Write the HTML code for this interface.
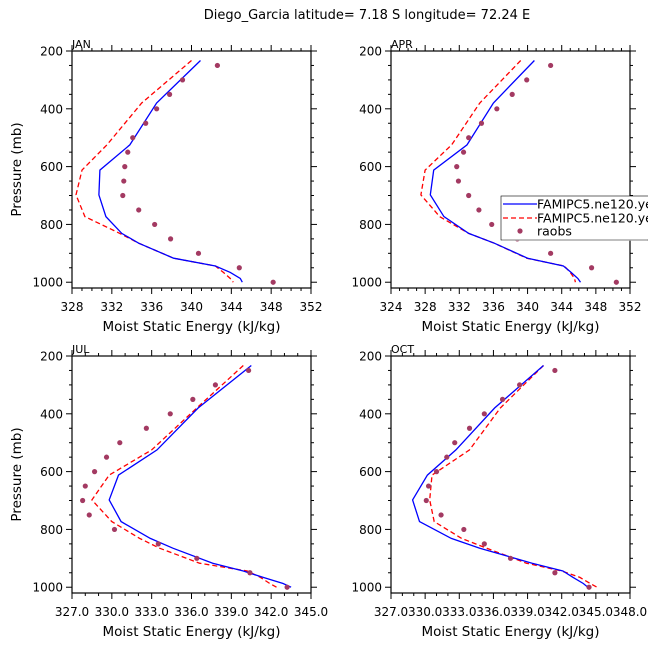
<!DOCTYPE html>
<html><head><meta charset="utf-8"><style>
body{margin:0;background:#fff;}
svg{display:block;font-family:"DejaVu Sans","Liberation Sans",sans-serif;}
</style></head><body>
<svg id="c" width="648" height="649" viewBox="0 0 648 649">
<text x="367" y="19" font-size="13" text-anchor="middle">Diego_Garcia  latitude= 7.18 S longitude= 72.24 E</text>
</svg>
<script>
const modelP=[233,380,525,612,698,773,831,865,917,944,966,987,1000];
const obsP=[250,300,350,400,450,500,550,600,650,700,750,800,850,900,950,1000];
const janBlue=[340.9,336.5,333.8,330.8,330.7,331.4,333.0,334.7,338.2,342.4,343.9,344.9,345.1];
const janRed=[340.0,335.0,331.5,329.0,328.4,329.3,332.8,334.7,338.2,342.4,343.2,343.9,344.2];
const janObs=[342.6,339.1,337.8,336.5,335.4,334.1,333.6,333.3,333.2,333.1,334.7,336.3,337.9,340.7,344.8,348.2];
const aprBlue=[340.8,336.0,332.9,329.0,328.6,330.2,333.1,336.1,340.0,344.2,345.1,345.9,346.2];
const aprRed=[339.2,334.4,331.1,328.0,327.5,329.7,333.1,336.1,339.9,344.3,345.0,345.5,345.6];
const aprObs=[342.7,339.9,338.2,336.4,334.6,333.1,332.5,331.7,331.9,333.1,334.3,335.8,338.8,342.7,347.5,350.4];
const julBlue=[340.5,336.5,333.4,330.5,329.8,330.7,332.9,334.6,337.6,339.9,341.4,342.9,343.5];
const julRed=[339.9,336.4,333.0,329.8,328.5,330.0,332.1,333.6,336.6,340.2,341.2,341.9,342.4];
const julObs=[340.3,337.8,336.1,334.4,332.6,330.6,329.6,328.7,328.0,327.8,328.3,330.2,333.5,336.4,340.4,343.2];
const octBlue=[340.4,336.1,332.7,330.2,328.9,329.5,332.3,334.8,339.4,342.1,343.0,343.9,344.3];
const octRed=[340.4,336.6,333.9,330.6,330.4,330.8,333.2,335.4,338.9,342.0,343.6,344.5,345.1];
const octObs=[341.4,338.3,336.8,335.2,333.9,332.6,331.9,331.0,330.3,330.1,331.4,333.4,335.2,337.5,341.4,344.4];
const pTicks=[200,400,600,800,1000];
const janX=[328,332,336,340,344,348,352];
const aprX=[324,328,332,336,340,344,348,352];
const julX=[327.0,330.0,333.0,336.0,339.0,342.0,345.0];
const octX=[327.0,330.0,333.0,336.0,339.0,342.0,345.0,348.0];

const NS="http://www.w3.org/2000/svg";
const svg=document.getElementById('c');
function mk(t,a,p){const e=document.createElementNS(NS,t);for(const k in a)e.setAttribute(k,a[k]);(p||svg).appendChild(e);return e;}

const panels=[
 {name:'jan',label:'JAN',x0:72,x1:311,y0:51,y1:288,xmin:328,xmax:352,minor:1,ticks:janX,dec:0,blue:janBlue,red:janRed,obs:janObs,ylab:true},
 {name:'apr',label:'APR',x0:391,x1:630,y0:51,y1:288,xmin:324,xmax:352,minor:1,ticks:aprX,dec:0,blue:aprBlue,red:aprRed,obs:aprObs,ylab:false,legend:true},
 {name:'jul',label:'JUL',x0:72,x1:311,y0:356,y1:593,xmin:327,xmax:345,minor:1,ticks:julX,dec:1,blue:julBlue,red:julRed,obs:julObs,ylab:true},
 {name:'oct',label:'OCT',x0:391,x1:630,y0:356,y1:593,xmin:327,xmax:348,minor:1,ticks:octX,dec:1,blue:octBlue,red:octRed,obs:octObs,ylab:false}
];
panels.forEach(P=>{
 const g=mk('g',{});
 
 
 const sx=v=>P.x0+(v-P.xmin)/(P.xmax-P.xmin)*(P.x1-P.x0);
 const sy=p=>P.y0+(p-200)/(1020-200)*(P.y1-P.y0);
 for(let v=P.xmin;v<=P.xmax+1e-9;v+=P.minor){
  const maj=P.ticks.some(t=>Math.abs(t-v)<1e-6);const L=maj?6:3;const x=sx(v);
  mk('line',{x1:x,x2:x,y1:P.y1,y2:P.y1+L,stroke:'#000','stroke-width':1},g);
  mk('line',{x1:x,x2:x,y1:P.y0,y2:P.y0-L,stroke:'#000','stroke-width':1},g);
 }
 for(let p=200;p<=1000;p+=50){
  const maj=p%200===0;const L=maj?6:3;const y=sy(p);
  mk('line',{x1:P.x0,x2:P.x0-L,y1:y,y2:y,stroke:'#000','stroke-width':1},g);
  mk('line',{x1:P.x1,x2:P.x1+L,y1:y,y2:y,stroke:'#000','stroke-width':1},g);
 }
 const fr=mk('rect',{x:P.x0,y:P.y0,width:P.x1-P.x0,height:P.y1-P.y0,fill:'none',stroke:'#000','stroke-width':1.2},g);
 
 
 const lb=mk('text',{x:P.x0,y:P.y0-3,'font-size':11},g);lb.textContent=P.label;
 
 
 pTicks.forEach(p=>{const t=mk('text',{x:P.x0-9,y:sy(p)+4.5,'font-size':12,'text-anchor':'end'},g);t.textContent=p;
  
  });
 P.ticks.forEach(v=>{const t=mk('text',{x:sx(v),y:P.y1+23,'font-size':12,'text-anchor':'middle'},g);t.textContent=v.toFixed(P.dec);
  
  });
 const xt=mk('text',{x:(P.x0+P.x1)/2,y:P.y1+43,'font-size':13.5,'text-anchor':'middle'},g);xt.textContent='Moist Static Energy (kJ/kg)';
 
 
 if(P.ylab){const yt=mk('text',{x:0,y:0,'font-size':13.5,'text-anchor':'middle',transform:`translate(21,${(P.y0+P.y1)/2}) rotate(-90)`},g);yt.textContent='Pressure (mb)';
  
  }
 const pts=a=>a.map((v,i)=>sx(v).toFixed(1)+','+sy(modelP[i]).toFixed(1)).join(' ');
 const r=mk('polyline',{points:pts(P.red),fill:'none',stroke:'#ff0000','stroke-width':1.3,'stroke-dasharray':'5,3'},g);
 
 
 const b=mk('polyline',{points:pts(P.blue),fill:'none',stroke:'#0000ff','stroke-width':1.3},g);
 
 
 P.obs.forEach((v,i)=>{const c=mk('circle',{cx:sx(v),cy:sy(obsP[i]),r:2.6,fill:'#a33a62'},g);
  
  });
 if(P.legend){
  const lg=mk('g',{},g);
  
  
  mk('rect',{x:501,y:196,width:160,height:44,fill:'#fff',stroke:'#000','stroke-width':0.6},lg);
  mk('line',{x1:502,x2:647,y1:240,y2:240,stroke:'#aaa','stroke-width':1.5},lg);
  mk('line',{x1:503,x2:537,y1:204,y2:204,stroke:'#0000ff','stroke-width':1.3},lg);
  mk('line',{x1:503,x2:537,y1:218,y2:218,stroke:'#ff0000','stroke-width':1.3,'stroke-dasharray':'5,3'},lg);
  mk('circle',{cx:520,cy:231,r:2.6,fill:'#a33a62'},lg);
  [['FAMIPC5.ne120.ye',208.5],['FAMIPC5.ne120.ye',222.5],['raobs',235.5]].forEach(([s,y])=>{const t=mk('text',{x:537,y:y,'font-size':12.5},lg);t.textContent=s;
   
   });
 }
});
</script>
</body></html>
